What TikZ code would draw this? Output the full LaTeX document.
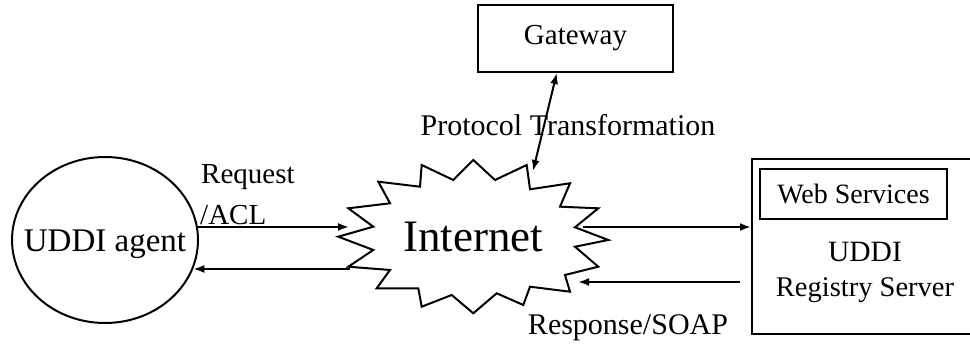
\documentclass[tikz,border=0pt]{standalone}
\usepackage{fontspec}
\setmainfont{Liberation Serif}
\usetikzlibrary{arrows.meta,calc,shapes.geometric}

\tikzset{
  ln/.style={line width=2pt},
  box/.style={ln, draw, rectangle, inner sep=0pt},
  arr/.style={ln, -{Latex[length=11pt,width=8pt]}},
  darr/.style={ln, {Latex[length=11pt,width=8pt]}-{Latex[length=11pt,width=8pt]}},
  fs/.style={font=\fontsize{#1}{#1}\selectfont, inner sep=0pt},
}

\begin{document}
\begin{tikzpicture}[x=1pt,y=-1pt]
\useasboundingbox (0,0) rectangle (970,344);
\clip (0,0) rectangle (970,344);

% client agent
\node (agent) [ln, draw, ellipse, inner sep=0pt,
  minimum width=186pt, minimum height=166pt] at (105,240) {};
\node (agtxt) [fs=33] at (105,244) {UDDI agent};

% gateway
\node (gw) [box, minimum width=195pt, minimum height=67pt, fs=29]
  at (575.5,38.5) {Gateway};

% the Internet cloud (a sixteen-point star)
\draw[ln, line join=miter]
  (473.3,160) -- (495,180) -- (526.7,165) -- (530,189.3) -- (570,183.3)
  -- (560,206.7) -- (598.3,208.3) -- (575,227.3) -- (608.3,240)
  -- (575,246.7) -- (598.3,266.7) -- (565,275) -- (570,291.7)
  -- (530,286.7) -- (523.3,305) -- (496.7,293.3) -- (473.3,313.3)
  -- (451.7,295) -- (421.7,306.7) -- (418.3,288.3) -- (376.7,288.3)
  -- (390,270) -- (348.3,266.7) -- (373.3,250) -- (338.3,236.7)
  -- (373.3,226.7) -- (348.3,208.3) -- (390,203.3) -- (378.3,181.7)
  -- (420,186.7) -- (421.7,165) -- (453.3,180) -- cycle;
\node (inet) [fs=45] at (473,237) {Internet};

% connection points on the star
\coordinate (sL1) at (349,227);
\coordinate (sL2) at (350,269);
\coordinate (sR1) at (583,227);
\coordinate (sR2) at (578,282);
\coordinate (sT)  at (533,171);

% registry server
\node (srv) [box, minimum width=260pt, minimum height=175pt, anchor=north west]
  at (751,158) {};
\node (ws) [box, minimum width=187pt, minimum height=50pt, fs=28]
  at (853.5,194) {Web Services};
\node (uddi) [fs=29.5] at (865,252) {UDDI};
\node (reg) [fs=28.5] at (865,290) {Registry Server};

% connectors
\draw[arr] (agent.8) -- (agent.8 -| sL1);
\draw[arr] (sL2) -- (sL2 -| agent.-18);
\draw[arr] (sR1) -- (sR1 -| srv.west);
\draw[arr] ($(sR2 -| srv.west)+(-11,0)$) -- (sR2);

% labels
\node (lreq) [fs=29, anchor=west] at (201,177) {Request};
\node (lacl) [fs=29, anchor=west] at (200,215) {/ACL};
\node (lpt)  [fs=30] at (568,125) {Protocol Transformation};
\node (lrs)  [fs=30] at (628,328) {Response/SOAP};

\draw[darr] ($(gw.south west)!0.405!(gw.south east)$) -- (sT);
\end{tikzpicture}
\end{document}
